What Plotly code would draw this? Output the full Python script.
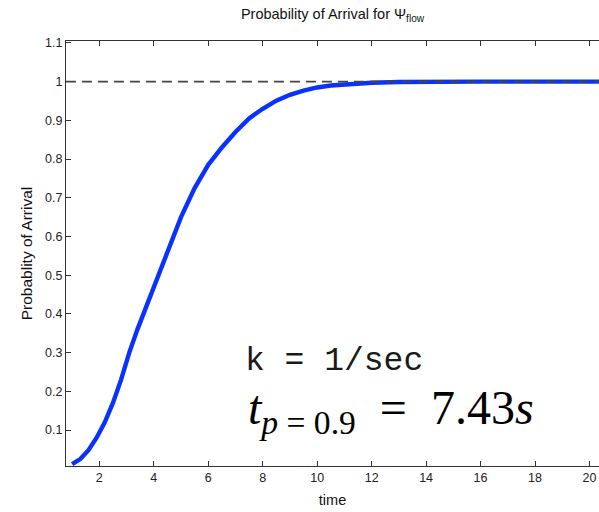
import plotly.graph_objects as go

# ---- data ----
time_s = [1.0, 1.3, 1.6, 1.9, 2.2, 2.5, 2.8, 3.1, 3.4, 3.7, 4.0, 4.3, 4.7, 5.0,
          5.5, 6.0, 6.5, 7.0, 7.5, 8.0, 8.5, 9.0, 9.5, 10.0, 10.5, 11.0, 12.0,
          13.0, 14.0, 16.0, 18.0, 20.4]
prob_arrival = [0.012, 0.025, 0.048, 0.08, 0.12, 0.17, 0.23, 0.30, 0.36, 0.415,
                0.47, 0.525, 0.595, 0.65, 0.725, 0.785, 0.83, 0.87, 0.905, 0.93,
                0.951, 0.966, 0.977, 0.985, 0.99, 0.993, 0.997, 0.999, 1.0, 1.0,
                1.0, 1.0]
reference_level = 1.0

x_tick_vals = [2, 4, 6, 8, 10, 12, 14, 16, 18, 20]
x_tick_text = ["2", "4", "6", "8", "10", "12", "14", "16", "18", "20"]
y_tick_vals = [0.1, 0.2, 0.3, 0.4, 0.5, 0.6, 0.7, 0.8, 0.9, 1.0, 1.1]
y_tick_text = ["0.1", "0.2", "0.3", "0.4", "0.5", "0.6", "0.7", "0.8", "0.9", "1", "1.1"]

title_text = "Probability of Arrival for Ψ<sub>flow</sub>"
x_title = "time"
y_title = "Probablity of Arrival"
note_k = "k = 1/sec"
note_t = "<i>t</i><sub><i>p</i> = 0.9</sub>&nbsp; = &nbsp;7.43<i>s</i>"

fig = go.Figure()
fig.add_trace(go.Scatter(
    x=time_s, y=prob_arrival, mode="lines",
    line=dict(color="#0a32ff", width=4.4),
    showlegend=False, hoverinfo="skip",
))

fig.add_shape(type="line", xref="paper", x0=0, x1=1, yref="y",
              y0=reference_level, y1=reference_level, layer="above",
              line=dict(color="#444444", width=1.6, dash="10px,6px"))

fig.add_annotation(text=note_k, xref="x", yref="y", x=7.28, y=0.276,
                   xanchor="left", yanchor="middle",
                   showarrow=False, font=dict(family="Liberation Mono", size=33, color="#1a1a1a"))
fig.add_annotation(text=note_t, xref="x", yref="y", x=7.40, y=0.148,
                   xanchor="left", yanchor="middle",
                   showarrow=False, font=dict(family="Liberation Serif", size=48, color="#000000"))

axis_common = dict(
    showline=True, linecolor="#333333", linewidth=1, ticks="inside", ticklen=5,
    tickcolor="#333333", showgrid=False, zeroline=False,
    tickfont=dict(family="Liberation Sans", size=12.5, color="#222222"),
)

fig.update_layout(
    width=599, height=512,
    margin=dict(l=66, r=0, t=41, b=46),
    paper_bgcolor="white", plot_bgcolor="white",
    title=dict(text=title_text, x=0.5, xref="paper", y=1 - 14 / 512, yref="container",
               yanchor="middle", xanchor="center",
               font=dict(family="Liberation Sans", size=14.5, color="#111111")),
    xaxis=dict(range=[0.776, 20.35], tickvals=x_tick_vals, ticktext=x_tick_text,
               mirror="ticks",
               title=dict(text=x_title, standoff=10,
                          font=dict(family="Liberation Sans", size=14.5, color="#111111")),
               **axis_common),
    yaxis=dict(range=[0.007, 1.105], tickvals=y_tick_vals, ticktext=y_tick_text,
               mirror=False,
               title=dict(text=y_title, standoff=8,
                          font=dict(family="Liberation Sans", size=15.5, color="#111111")),
               **axis_common),
)

fig.write_html("out.html", config={"displayModeBar": False},
               post_script="document.body.style.margin='0px';")
